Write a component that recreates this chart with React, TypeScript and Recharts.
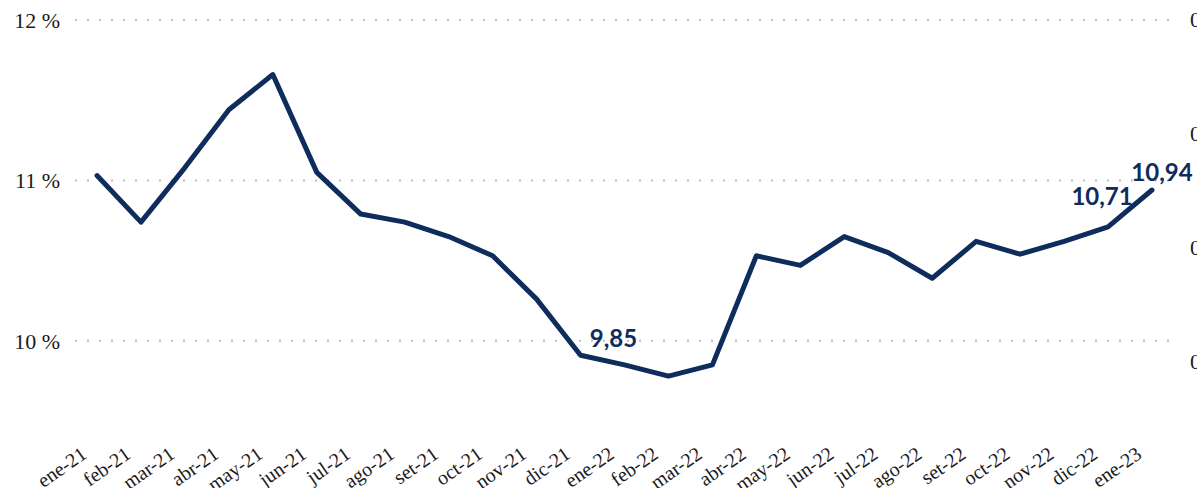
import React from 'react';
import { LineChart, Line, XAxis, YAxis, CartesianGrid, LabelList } from 'recharts';

const months = [
  'ene-21', 'feb-21', 'mar-21', 'abr-21', 'may-21', 'jun-21', 'jul-21', 'ago-21', 'set-21', 'oct-21', 'nov-21', 'dic-21',
  'ene-22', 'feb-22', 'mar-22', 'abr-22', 'may-22', 'jun-22', 'jul-22', 'ago-22', 'set-22', 'oct-22', 'nov-22', 'dic-22',
  'ene-23',
];
const rates = [
  11.03, 10.74, 11.08, 11.44, 11.66, 11.05, 10.79, 10.74, 10.65, 10.53, 10.26, 9.91,
  9.85, 9.78, 9.85, 10.53, 10.47, 10.65, 10.55, 10.39, 10.62, 10.54, 10.62, 10.71,
  10.94,
];
const labeledMonths = ['ene-22', 'dic-22', 'ene-23'];
const leftTicks = [10, 11, 12];
const rightTicks = [0.5175, 1.5175, 2.5175, 3.5175];
const rightTickLabels = ['0', '0', '0', '0'];

const data = months.map((m, i) => ({ month: m, rate: rates[i] }));

const NAVY = '#0e2d5c';
const labelOffsets: Record<string, { dx: number; dy: number }> = {
  'ene-22': { dx: -11, dy: -18 },
  'dic-22': { dx: -6, dy: -22 },
  'ene-23': { dx: 10, dy: -9 },
};

const XTick = (props: any) => {
  const { x, y, payload } = props;
  return (
    <g transform={`translate(${x - 9},${y})`}>
      <text
        x={0}
        y={0}
        textAnchor="end"
        transform="rotate(-35)"
        fontFamily="'Liberation Serif', serif"
        fontSize={20}
        fill="#1a1a1a"
      >
        {payload.value}
      </text>
    </g>
  );
};

const RightTick = (props: any) => {
  const { y, payload } = props;
  const i = rightTicks.indexOf(payload.value);
  return (
    <text
      x={1190}
      y={y}
      dy={7}
      textAnchor="start"
      fontFamily="'Liberation Serif', serif"
      fontSize={22}
      fill="#1a1a1a"
    >
      {i >= 0 ? rightTickLabels[i] : '0'}
    </text>
  );
};

const ValueLabel = (props: any) => {
  const { x, y, index } = props;
  const m = months[index];
  if (!labeledMonths.includes(m)) return null;
  const off = labelOffsets[m];
  return (
    <text
      x={x + off.dx}
      y={y + off.dy}
      textAnchor="middle"
      fontFamily="Lato, 'Open Sans', sans-serif"
      fontWeight={700}
      fontSize={24}
      fill={NAVY}
    >
      {rates[index].toFixed(2).replace('.', ',')}
    </text>
  );
};

export default function App() {
  return (
    <div style={{ position: 'fixed', left: 0, top: 0, width: 1197, height: 488, background: '#fff' }}>
      <LineChart width={1197} height={488} data={data} margin={{ top: 20, right: 0, bottom: 0, left: 0 }}>
        <CartesianGrid
          horizontal={true}
          vertical={false}
          stroke="#bdbdbd"
          strokeWidth={2}
          strokeDasharray="2 10"
          yAxisId="left"
          horizontalValues={leftTicks}
        />
        <XAxis
          dataKey="month"
          interval={0}
          padding={{ left: 22, right: 22 }}
          axisLine={false}
          tickLine={false}
          tickSize={0}
          tickMargin={36}
          height={67}
          tick={<XTick />}
        />
        <YAxis
          yAxisId="left"
          orientation="left"
          domain={[9.5, 12]}
          ticks={leftTicks}
          width={75}
          axisLine={false}
          tickLine={false}
          tickSize={0}
          tickMargin={15}
          tickFormatter={(v: number) => `${v} %`}
          tick={{ fontFamily: "'Liberation Serif', serif", fontSize: 22, fill: '#1a1a1a' }}
        />
        <YAxis
          yAxisId="right"
          orientation="right"
          type="number"
          domain={[0, 3.5175]}
          allowDataOverflow={true}
          ticks={rightTicks}
          interval={0}
          width={23}
          axisLine={false}
          tickLine={false}
          tickSize={0}
          tick={<RightTick />}
        />
        <Line
          yAxisId="left"
          type="linear"
          dataKey="rate"
          stroke={NAVY}
          strokeWidth={5}
          strokeLinejoin="round"
          strokeLinecap="round"
          dot={false}
          activeDot={false}
          isAnimationActive={false}
        >
          <LabelList dataKey="rate" content={<ValueLabel />} />
        </Line>
      </LineChart>
    </div>
  );
}
